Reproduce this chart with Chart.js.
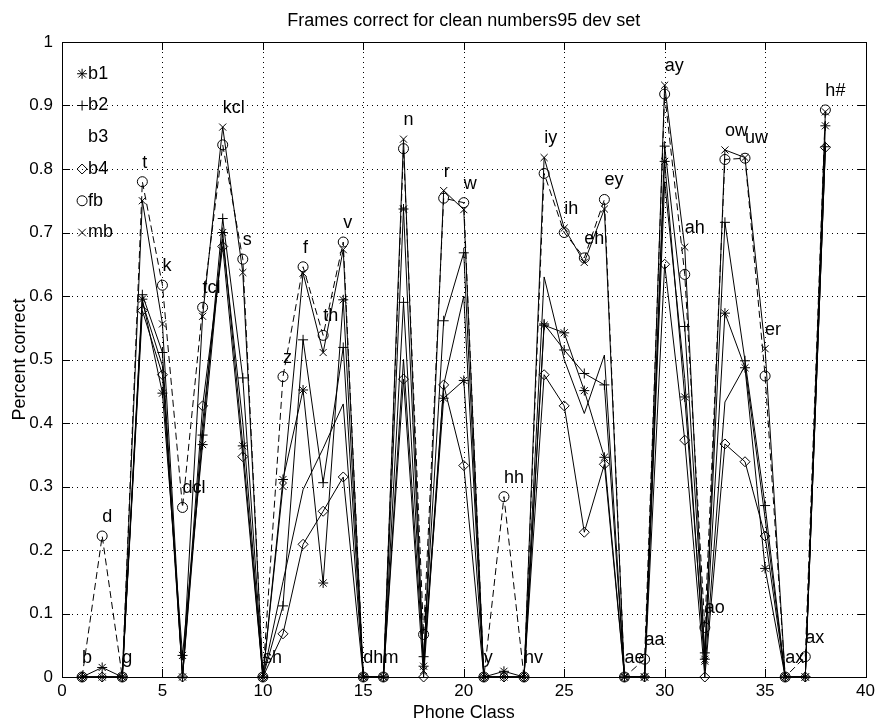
<!DOCTYPE html>
<html>
<head>
<meta charset="utf-8">
<script src="https://cdn.jsdelivr.net/npm/chart.js@4/dist/chart.umd.min.js"></script>
<style>
  html, body { margin: 0; padding: 0; background: #fff; }
  #wrap { width: 879px; height: 721px; }
</style>
</head>
<body>
<div id="wrap"><canvas id="chart" width="879" height="721"></canvas></div>
<script>
// phone classes on the x axis
const classes = [1, 2, 3, 4, 5, 6, 7, 8, 9, 10, 11, 12, 13, 14, 15, 16, 17, 18, 19, 20,
  21, 22, 23, 24, 25, 26, 27, 28, 29, 30, 31, 32, 33, 34, 35, 36, 37, 38];
const phones = ['b', 'd', 'g', 't', 'k', 'dcl', 'tcl', 'kcl', 's', 'sh', 'z', 'f', 'th', 'v', 'dh', 'm', 'n', 'l', 'r', 'w',
  'y', 'hh', 'hv', 'iy', 'ih', 'eh', 'ey', 'ae', 'aa', 'ay', 'ah', 'ao', 'ow', 'uw', 'er', 'ax', 'ax', 'h#'];

// fraction of frames correct per phone class
const b1 = [0, 0.015, 0, 0.595, 0.447, 0.034, 0.366, 0.700, 0.364, 0, 0.311, 0.452, 0.148, 0.594, 0, 0, 0.737, 0.017, 0.439, 0.467,
  0, 0.009, 0, 0.554, 0.542, 0.451, 0.346, 0, 0, 0.812, 0.441, 0.028, 0.573, 0.487, 0.171, 0, 0, 0.868];
const b2 = [0, 0, 0, 0.602, 0.511, 0, 0.381, 0.722, 0.471, 0, 0.112, 0.531, 0.306, 0.519, 0, 0, 0.590, 0.032, 0.561, 0.668,
  0, 0, 0, 0.556, 0.515, 0.478, 0.460, 0, 0, 0.836, 0.552, 0.038, 0.716, 0.498, 0.270, 0, 0, 0.835];
const b3 = [0, 0, 0, 0.590, 0.490, 0, 0.400, 0.690, 0.400, 0, 0.150, 0.295, 0.360, 0.430, 0, 0, 0.500, 0.020, 0.460, 0.600,
  0, 0, 0, 0.630, 0.500, 0.415, 0.507, 0, 0, 0.780, 0.470, 0.010, 0.433, 0.490, 0.250, 0, 0, 0.832];
const b4 = [0, 0, 0, 0.577, 0.476, 0, 0.427, 0.678, 0.347, 0, 0.068, 0.209, 0.261, 0.315, 0, 0, 0.469, 0, 0.460, 0.333,
  0, 0, 0, 0.476, 0.427, 0.228, 0.335, 0, 0, 0.650, 0.373, 0, 0.367, 0.339, 0.222, 0, 0, 0.834];
const fb = [0, 0.222, 0, 0.780, 0.617, 0.267, 0.582, 0.838, 0.658, 0, 0.473, 0.646, 0.538, 0.685, 0, 0, 0.832, 0.067, 0.754, 0.747,
  0, 0.284, 0, 0.793, 0.700, 0.660, 0.752, 0, 0.028, 0.918, 0.634, 0.078, 0.815, 0.817, 0.474, 0, 0.032, 0.893];
const mb = [0, 0, 0, 0.750, 0.556, 0, 0.568, 0.866, 0.637, 0, 0.300, 0.636, 0.511, 0.673, 0, 0, 0.847, 0.010, 0.766, 0.736,
  0, 0, 0, 0.818, 0.707, 0.653, 0.737, 0, 0, 0.932, 0.677, 0.025, 0.830, 0.818, 0.517, 0, 0, 0.890];

const seriesNames = ['b1', 'b2', 'b3', 'b4', 'fb', 'mb'];
const seriesValues = [b1, b2, b3, b4, fb, mb];
const seriesMarkers = ['star', 'cross', false, 'rectRot', 'circle', 'crossRot'];
const legendY = [0.95, 0.90, 0.85, 0.80, 0.75, 0.70];

const FONT = '"Liberation Sans", Arial, Helvetica, sans-serif';

function drawMarker(ctx, style, x, y, r) {
  ctx.beginPath();
  if (style === 'circle') {
    ctx.arc(x, y, r, 0, Math.PI * 2);
  } else if (style === 'rectRot') {
    ctx.moveTo(x, y - r); ctx.lineTo(x + r, y); ctx.lineTo(x, y + r); ctx.lineTo(x - r, y); ctx.closePath();
  } else if (style === 'cross') {
    ctx.moveTo(x - r, y); ctx.lineTo(x + r, y); ctx.moveTo(x, y - r); ctx.lineTo(x, y + r);
  } else if (style === 'crossRot') {
    const d = r * 0.75;
    ctx.moveTo(x - d, y - d); ctx.lineTo(x + d, y + d); ctx.moveTo(x + d, y - d); ctx.lineTo(x - d, y + d);
  } else if (style === 'star') {
    const d = r * 0.75;
    ctx.moveTo(x - r, y); ctx.lineTo(x + r, y); ctx.moveTo(x, y - r); ctx.lineTo(x, y + r);
    ctx.moveTo(x - d, y - d); ctx.lineTo(x + d, y + d); ctx.moveTo(x + d, y - d); ctx.lineTo(x - d, y + d);
  }
  ctx.stroke();
}

const decor = {
  id: 'decor',
  beforeDatasetsDraw(chart) {
    const { ctx, chartArea: a, scales: { x, y } } = chart;
    ctx.save();
    ctx.strokeStyle = '#000';
    ctx.lineWidth = 1;
    // dotted grid
    ctx.setLineDash([1, 4]);
    x.ticks.forEach(t => {
      if (t.value <= x.min || t.value >= x.max) return;
      const px = Math.round(x.getPixelForValue(t.value)) + 0.5;
      ctx.beginPath(); ctx.moveTo(px, a.top); ctx.lineTo(px, a.bottom); ctx.stroke();
    });
    y.ticks.forEach(t => {
      if (t.value <= y.min || t.value >= y.max) return;
      const py = Math.round(y.getPixelForValue(t.value)) + 0.5;
      ctx.beginPath(); ctx.moveTo(a.left, py); ctx.lineTo(a.right, py); ctx.stroke();
    });
    ctx.setLineDash([]);
    // box and inward ticks
    ctx.strokeRect(Math.round(a.left) + 0.5, Math.round(a.top) + 0.5, Math.round(a.width), Math.round(a.height));
    const tl = 8;
    ctx.beginPath();
    x.ticks.forEach(t => {
      const px = Math.round(x.getPixelForValue(t.value)) + 0.5;
      ctx.moveTo(px, a.bottom); ctx.lineTo(px, a.bottom - tl);
      ctx.moveTo(px, a.top); ctx.lineTo(px, a.top + tl);
    });
    y.ticks.forEach(t => {
      const py = Math.round(y.getPixelForValue(t.value)) + 0.5;
      ctx.moveTo(a.left, py); ctx.lineTo(a.left + tl, py);
      ctx.moveTo(a.right, py); ctx.lineTo(a.right - tl, py);
    });
    ctx.stroke();
    ctx.restore();
  },
  afterDatasetsDraw(chart) {
    const { ctx, chartArea: a, scales: { x, y } } = chart;
    ctx.save();
    ctx.fillStyle = '#000';
    ctx.strokeStyle = '#000';
    ctx.lineWidth = 1;

    // phone labels above the highest value of each class
    ctx.font = '18px ' + FONT;
    ctx.textAlign = 'left';
    ctx.textBaseline = 'middle';
    classes.forEach((c, i) => {
      const top = Math.max(...seriesValues.map(s => s[i]));
      ctx.fillText(phones[i], x.getPixelForValue(c), y.getPixelForValue(top + 0.03));
    });

    // legend written inside the axes
    seriesNames.forEach((name, i) => {
      const ly = y.getPixelForValue(legendY[i]);
      if (seriesMarkers[i]) drawMarker(ctx, seriesMarkers[i], x.getPixelForValue(1), ly, 5);
      ctx.fillText(name, x.getPixelForValue(1.3), ly);
    });

    // title and axis titles
    ctx.font = '18px ' + FONT;
    ctx.textAlign = 'center';
    ctx.textBaseline = 'alphabetic';
    ctx.fillText('Frames correct for clean numbers95 dev set', (a.left + a.right) / 2, 26);
    ctx.fillText('Phone Class', (a.left + a.right) / 2, 718);
    ctx.translate(25, (a.top + a.bottom) / 2);
    ctx.rotate(-Math.PI / 2);
    ctx.fillText('Percent correct', 0, 0);
    ctx.restore();
  }
};

const datasets = seriesNames.map((name, i) => ({
  label: name,
  data: classes.map((c, j) => ({ x: c, y: seriesValues[i][j] })),
  borderColor: '#000',
  backgroundColor: 'rgba(0,0,0,0)',
  borderWidth: 1,
  borderDash: name === 'fb' ? [7, 4] : [],
  pointStyle: seriesMarkers[i] || 'circle',
  pointRadius: seriesMarkers[i] ? 5 : 0,
  pointBorderColor: '#000',
  pointBackgroundColor: 'rgba(0,0,0,0)',
  pointBorderWidth: 1,
  tension: 0,
  clip: false
}));

new Chart(document.getElementById('chart'), {
  type: 'line',
  data: { datasets },
  options: {
    responsive: false,
    animation: false,
    layout: { padding: { top: 42, right: 9, left: 0, bottom: 0 } },
    plugins: {
      legend: { display: false },
      title: { display: false },
      tooltip: { enabled: false }
    },
    scales: {
      x: {
        type: 'linear',
        min: 0,
        max: 40,
        ticks: { stepSize: 5, color: '#000', font: { family: FONT, size: 17 }, padding: 4, maxRotation: 0 },
        grid: { display: false, drawTicks: false },
        border: { display: false },
        afterFit: s => { s.height = 44; }
      },
      y: {
        type: 'linear',
        min: 0,
        max: 1,
        ticks: {
          stepSize: 0.1, color: '#000', font: { family: FONT, size: 17 }, padding: 9,
          callback: v => String(Math.round(v * 10) / 10)
        },
        grid: { display: false, drawTicks: false },
        border: { display: false },
        afterFit: s => { s.width = 62; }
      }
    }
  },
  plugins: [decor]
});
</script>
</body>
</html>
